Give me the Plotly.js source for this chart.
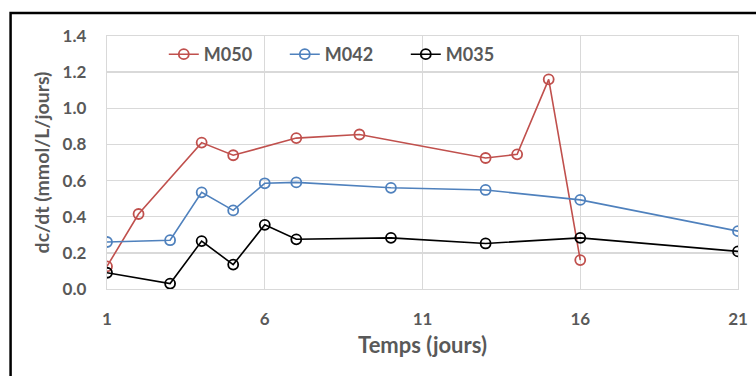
<!DOCTYPE html>
<html>
<head>
<meta charset="utf-8">
<script src="https://cdn.plot.ly/plotly-3.0.1.min.js"></script>
<style>html,body{margin:0;padding:0;background:#fff;}#chart{width:756px;height:376px;}</style>
</head>
<body>
<div id="chart"></div>
<script>
const seriesNames = ["M050", "M042", "M035"];
const seriesColors = ["#c0504d", "#4f81bd", "#000000"];
const x_M050 = [1, 2, 4, 5, 7, 9, 13, 14, 15, 16];
const y_M050 = [0.125, 0.415, 0.81, 0.74, 0.835, 0.855, 0.725, 0.745, 1.16, 0.16];
const x_M042 = [1, 3, 4, 5, 6, 7, 10, 13, 16, 21];
const y_M042 = [0.26, 0.27, 0.535, 0.435, 0.585, 0.59, 0.56, 0.548, 0.493, 0.32];
const x_M035 = [1, 3, 4, 5, 6, 7, 10, 13, 16, 21];
const y_M035 = [0.09, 0.03, 0.265, 0.135, 0.355, 0.275, 0.283, 0.252, 0.283, 0.208];
const xTicks = [1, 6, 11, 16, 21];
const yTicks = [0.0, 0.2, 0.4, 0.6, 0.8, 1.0, 1.2, 1.4];

const xs = [x_M050, x_M042, x_M035];
const ys = [y_M050, y_M042, y_M035];
const FONT = "Lato, 'Open Sans', sans-serif";
const traces = seriesNames.map((n, i) => ({
  type: "scatter", mode: "lines+markers", name: n,
  x: xs[i], y: ys[i],
  line: {color: seriesColors[i], width: 1.6},
  marker: {symbol: "circle-open", size: 10, color: seriesColors[i], line: {width: 1.8, color: seriesColors[i]}}
}));

const layout = {
  width: 756, height: 376,
  margin: {l: 106.5, r: 18, t: 36, b: 86.5},
  paper_bgcolor: "#fff", plot_bgcolor: "#fff",
  showlegend: true,
  legend: {orientation: "h", x: 0.09, xanchor: "left", y: 1.0, yanchor: "top",
    bgcolor: "rgba(0,0,0,0)", font: {family: FONT, size: 18, color: "#595959", weight: "bold"},
    entrywidth: 76, entrywidthmode: "pixels", itemwidth: 30},
  xaxis: {range: [1, 21], tickvals: xTicks, ticktext: xTicks.map(String),
    showgrid: true, gridcolor: "#d9d9d9", gridwidth: 1.3, zeroline: false,
    showline: true, linecolor: "#d9d9d9", linewidth: 1.3, mirror: true,
    ticks: "", ticklen: 0, ticklabelstandoff: 14,
    tickfont: {family: FONT, size: 17, color: "#595959", weight: "bold"},
    title: {text: "Temps (jours)", font: {family: FONT, size: 22, color: "#595959", weight: "bold"}, standoff: 10}},
  yaxis: {range: [0, 1.4], tickvals: yTicks, ticktext: yTicks.map(v => v.toFixed(1)),
    showgrid: true, gridcolor: "#d9d9d9", gridwidth: 1.3, zeroline: false,
    showline: true, linecolor: "#d9d9d9", linewidth: 1.3, mirror: true,
    ticks: "", ticklen: 0, ticklabelstandoff: 16,
    tickfont: {family: FONT, size: 17, color: "#595959", weight: "bold"},
    title: {text: "dc/dt (mmol/L/jours)", font: {family: FONT, size: 19.5, color: "#595959", weight: "bold"}, standoff: 7}},
  shapes: [{type: "rect", xref: "paper", yref: "paper",
    x0: -0.1528, x1: 1.2, y0: -0.6, y1: 1.0907,
    line: {color: "#000", width: 2.5}, fillcolor: "rgba(0,0,0,0)"}]
};
Plotly.newPlot("chart", traces, layout, {displayModeBar: false, staticPlot: true});
</script>
</body>
</html>
